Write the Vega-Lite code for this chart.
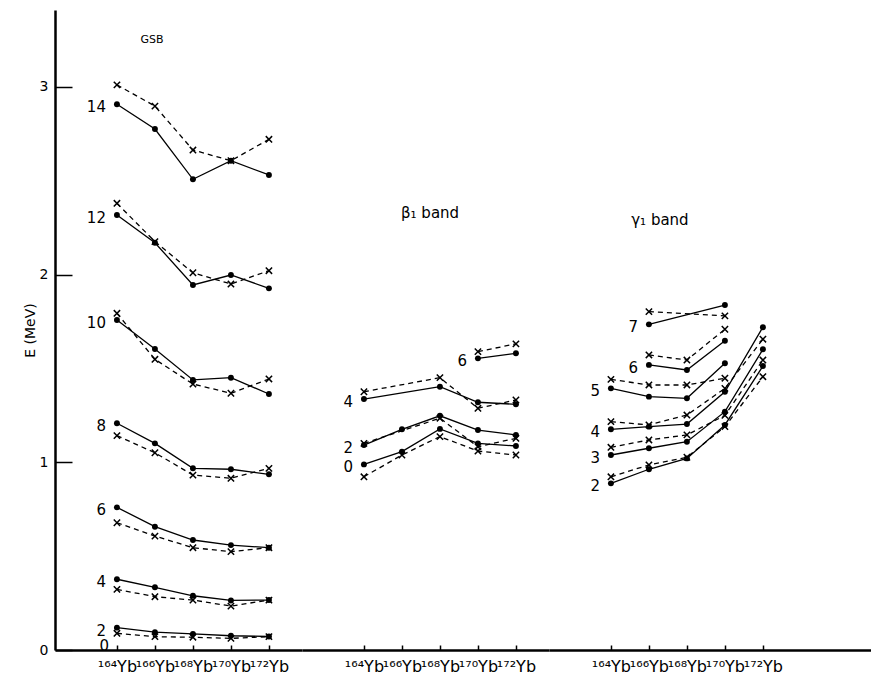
{
"$schema": "https://vega.github.io/schema/vega-lite/v6.json",
"padding": {"left": 23, "top": 10, "right": 0, "bottom": 5},
"background": "white",
"spacing": 0,
"bounds": "flush",
"config": {"view": {"stroke": null}, "font": "DejaVu Sans",
  "axis": {"domainColor": "black", "tickColor": "black", "labelColor": "black", "titleColor": "black", "grid": false}},
"datasets": {"levels": [
{"b":"GSB","s":0,"t":"exp","A":164,"E":0},
{"b":"GSB","s":2,"t":"exp","A":164,"E":0.119},{"b":"GSB","s":2,"t":"exp","A":166,"E":0.095},{"b":"GSB","s":2,"t":"exp","A":168,"E":0.086},{"b":"GSB","s":2,"t":"exp","A":170,"E":0.076},{"b":"GSB","s":2,"t":"exp","A":172,"E":0.072},
{"b":"GSB","s":4,"t":"exp","A":164,"E":0.377},{"b":"GSB","s":4,"t":"exp","A":166,"E":0.334},{"b":"GSB","s":4,"t":"exp","A":168,"E":0.289},{"b":"GSB","s":4,"t":"exp","A":170,"E":0.264},{"b":"GSB","s":4,"t":"exp","A":172,"E":0.266},
{"b":"GSB","s":6,"t":"exp","A":164,"E":0.760},{"b":"GSB","s":6,"t":"exp","A":166,"E":0.657},{"b":"GSB","s":6,"t":"exp","A":168,"E":0.586},{"b":"GSB","s":6,"t":"exp","A":170,"E":0.559},{"b":"GSB","s":6,"t":"exp","A":172,"E":0.545},
{"b":"GSB","s":8,"t":"exp","A":164,"E":1.208},{"b":"GSB","s":8,"t":"exp","A":166,"E":1.101},{"b":"GSB","s":8,"t":"exp","A":168,"E":0.968},{"b":"GSB","s":8,"t":"exp","A":170,"E":0.963},{"b":"GSB","s":8,"t":"exp","A":172,"E":0.936},
{"b":"GSB","s":10,"t":"exp","A":164,"E":1.758},{"b":"GSB","s":10,"t":"exp","A":166,"E":1.604},{"b":"GSB","s":10,"t":"exp","A":168,"E":1.439},{"b":"GSB","s":10,"t":"exp","A":170,"E":1.451},{"b":"GSB","s":10,"t":"exp","A":172,"E":1.364},
{"b":"GSB","s":12,"t":"exp","A":164,"E":2.318},{"b":"GSB","s":12,"t":"exp","A":166,"E":2.170},{"b":"GSB","s":12,"t":"exp","A":168,"E":1.945},{"b":"GSB","s":12,"t":"exp","A":170,"E":1.998},{"b":"GSB","s":12,"t":"exp","A":172,"E":1.927},
{"b":"GSB","s":14,"t":"exp","A":164,"E":2.908},{"b":"GSB","s":14,"t":"exp","A":166,"E":2.776},{"b":"GSB","s":14,"t":"exp","A":168,"E":2.508},{"b":"GSB","s":14,"t":"exp","A":170,"E":2.607},{"b":"GSB","s":14,"t":"exp","A":172,"E":2.531},
{"b":"GSB","s":2,"t":"calc","A":164,"E":0.089},{"b":"GSB","s":2,"t":"calc","A":166,"E":0.071},{"b":"GSB","s":2,"t":"calc","A":168,"E":0.068},{"b":"GSB","s":2,"t":"calc","A":170,"E":0.062},{"b":"GSB","s":2,"t":"calc","A":172,"E":0.071},
{"b":"GSB","s":4,"t":"calc","A":164,"E":0.323},{"b":"GSB","s":4,"t":"calc","A":166,"E":0.284},{"b":"GSB","s":4,"t":"calc","A":168,"E":0.266},{"b":"GSB","s":4,"t":"calc","A":170,"E":0.234},{"b":"GSB","s":4,"t":"calc","A":172,"E":0.266},
{"b":"GSB","s":6,"t":"calc","A":164,"E":0.678},{"b":"GSB","s":6,"t":"calc","A":166,"E":0.607},{"b":"GSB","s":6,"t":"calc","A":168,"E":0.545},{"b":"GSB","s":6,"t":"calc","A":170,"E":0.524},{"b":"GSB","s":6,"t":"calc","A":172,"E":0.545},
{"b":"GSB","s":8,"t":"calc","A":164,"E":1.142},{"b":"GSB","s":8,"t":"calc","A":166,"E":1.051},{"b":"GSB","s":8,"t":"calc","A":168,"E":0.932},{"b":"GSB","s":8,"t":"calc","A":170,"E":0.915},{"b":"GSB","s":8,"t":"calc","A":172,"E":0.968},
{"b":"GSB","s":10,"t":"calc","A":164,"E":1.794},{"b":"GSB","s":10,"t":"calc","A":166,"E":1.549},{"b":"GSB","s":10,"t":"calc","A":168,"E":1.417},{"b":"GSB","s":10,"t":"calc","A":170,"E":1.368},{"b":"GSB","s":10,"t":"calc","A":172,"E":1.444},
{"b":"GSB","s":12,"t":"calc","A":164,"E":2.380},{"b":"GSB","s":12,"t":"calc","A":166,"E":2.176},{"b":"GSB","s":12,"t":"calc","A":168,"E":2.010},{"b":"GSB","s":12,"t":"calc","A":170,"E":1.950},{"b":"GSB","s":12,"t":"calc","A":172,"E":2.021},
{"b":"GSB","s":14,"t":"calc","A":164,"E":3.011},{"b":"GSB","s":14,"t":"calc","A":166,"E":2.898},{"b":"GSB","s":14,"t":"calc","A":168,"E":2.664},{"b":"GSB","s":14,"t":"calc","A":170,"E":2.607},{"b":"GSB","s":14,"t":"calc","A":172,"E":2.721},
{"b":"beta","s":0,"t":"exp","A":164,"E":0.989},{"b":"beta","s":0,"t":"exp","A":166,"E":1.057},{"b":"beta","s":0,"t":"exp","A":168,"E":1.178},{"b":"beta","s":0,"t":"exp","A":170,"E":1.101},{"b":"beta","s":0,"t":"exp","A":172,"E":1.087},
{"b":"beta","s":2,"t":"exp","A":164,"E":1.092},{"b":"beta","s":2,"t":"exp","A":166,"E":1.176},{"b":"beta","s":2,"t":"exp","A":168,"E":1.248},{"b":"beta","s":2,"t":"exp","A":170,"E":1.172},{"b":"beta","s":2,"t":"exp","A":172,"E":1.146},
{"b":"beta","s":4,"t":"exp","A":164,"E":1.337},{"b":"beta","s":4,"t":"exp","A":168,"E":1.403},{"b":"beta","s":4,"t":"exp","A":170,"E":1.320},{"b":"beta","s":4,"t":"exp","A":172,"E":1.309},
{"b":"beta","s":6,"t":"exp","A":170,"E":1.554},{"b":"beta","s":6,"t":"exp","A":172,"E":1.581},
{"b":"beta","s":0,"t":"calc","A":164,"E":0.923},{"b":"beta","s":0,"t":"calc","A":166,"E":1.039},{"b":"beta","s":0,"t":"calc","A":168,"E":1.137},{"b":"beta","s":0,"t":"calc","A":170,"E":1.060},{"b":"beta","s":0,"t":"calc","A":172,"E":1.039},
{"b":"beta","s":2,"t":"calc","A":164,"E":1.101},{"b":"beta","s":2,"t":"calc","A":168,"E":1.235},{"b":"beta","s":2,"t":"calc","A":170,"E":1.083},{"b":"beta","s":2,"t":"calc","A":172,"E":1.128},
{"b":"beta","s":4,"t":"calc","A":164,"E":1.376},{"b":"beta","s":4,"t":"calc","A":168,"E":1.451},{"b":"beta","s":4,"t":"calc","A":170,"E":1.288},{"b":"beta","s":4,"t":"calc","A":172,"E":1.332},
{"b":"beta","s":6,"t":"calc","A":170,"E":1.590},{"b":"beta","s":6,"t":"calc","A":172,"E":1.631},
{"b":"gamma","s":2,"t":"exp","A":164,"E":0.888},{"b":"gamma","s":2,"t":"exp","A":166,"E":0.963},{"b":"gamma","s":2,"t":"exp","A":168,"E":1.021},{"b":"gamma","s":2,"t":"exp","A":170,"E":1.199},{"b":"gamma","s":2,"t":"exp","A":172,"E":1.513},
{"b":"gamma","s":3,"t":"exp","A":164,"E":1.039},{"b":"gamma","s":3,"t":"exp","A":166,"E":1.075},{"b":"gamma","s":3,"t":"exp","A":168,"E":1.110},{"b":"gamma","s":3,"t":"exp","A":170,"E":1.270},{"b":"gamma","s":3,"t":"exp","A":172,"E":1.602},
{"b":"gamma","s":4,"t":"exp","A":164,"E":1.176},{"b":"gamma","s":4,"t":"exp","A":166,"E":1.190},{"b":"gamma","s":4,"t":"exp","A":168,"E":1.204},{"b":"gamma","s":4,"t":"exp","A":170,"E":1.376},{"b":"gamma","s":4,"t":"exp","A":172,"E":1.720},
{"b":"gamma","s":5,"t":"exp","A":164,"E":1.394},{"b":"gamma","s":5,"t":"exp","A":166,"E":1.350},{"b":"gamma","s":5,"t":"exp","A":168,"E":1.341},{"b":"gamma","s":5,"t":"exp","A":170,"E":1.528},
{"b":"gamma","s":6,"t":"exp","A":166,"E":1.519},{"b":"gamma","s":6,"t":"exp","A":168,"E":1.492},{"b":"gamma","s":6,"t":"exp","A":170,"E":1.648},
{"b":"gamma","s":7,"t":"exp","A":166,"E":1.735},{"b":"gamma","s":7,"t":"exp","A":170,"E":1.838},
{"b":"gamma","s":2,"t":"calc","A":164,"E":0.923},{"b":"gamma","s":2,"t":"calc","A":166,"E":0.986},{"b":"gamma","s":2,"t":"calc","A":168,"E":1.027},{"b":"gamma","s":2,"t":"calc","A":170,"E":1.190},{"b":"gamma","s":2,"t":"calc","A":172,"E":1.456},
{"b":"gamma","s":3,"t":"calc","A":164,"E":1.080},{"b":"gamma","s":3,"t":"calc","A":166,"E":1.119},{"b":"gamma","s":3,"t":"calc","A":168,"E":1.146},{"b":"gamma","s":3,"t":"calc","A":170,"E":1.250},{"b":"gamma","s":3,"t":"calc","A":172,"E":1.545},
{"b":"gamma","s":4,"t":"calc","A":164,"E":1.217},{"b":"gamma","s":4,"t":"calc","A":166,"E":1.199},{"b":"gamma","s":4,"t":"calc","A":168,"E":1.252},{"b":"gamma","s":4,"t":"calc","A":170,"E":1.394},{"b":"gamma","s":4,"t":"calc","A":172,"E":1.656},
{"b":"gamma","s":5,"t":"calc","A":164,"E":1.442},{"b":"gamma","s":5,"t":"calc","A":166,"E":1.412},{"b":"gamma","s":5,"t":"calc","A":168,"E":1.412},{"b":"gamma","s":5,"t":"calc","A":170,"E":1.448},
{"b":"gamma","s":6,"t":"calc","A":166,"E":1.572},{"b":"gamma","s":6,"t":"calc","A":168,"E":1.545},{"b":"gamma","s":6,"t":"calc","A":170,"E":1.709},
{"b":"gamma","s":7,"t":"calc","A":166,"E":1.803},{"b":"gamma","s":7,"t":"calc","A":170,"E":1.780}
]},
"hconcat": [
{"width": 247, "height": 640,
 "data": {"name": "levels"},
 "encoding": {
  "x": {"field": "A", "type": "quantitative", "scale": {"domain": [160.74, 173.74], "nice": false, "zero": false},
        "axis": {"title": null, "values": [164,166,168,170,172], "labelExpr": "datum.value==164?'¹⁶⁴Yb':datum.value==166?'¹⁶⁶Yb':datum.value==168?'¹⁶⁸Yb':datum.value==170?'¹⁷⁰Yb':'¹⁷²Yb'", "domainWidth": 2.5, "tickSize": -5, "tickWidth": 1.5, "labelFontSize": 16, "labelPadding": 13, "labelDx": -8, "labelFlush": false, "labelOverlap": false}},
  "y": {"field": "E", "type": "quantitative", "scale": {"domain": [0, 3.41], "nice": false},
        "axis": {"title": "E (MeV)", "values": [0,1,2,3], "tickSize": -17, "tickWidth": 1.5, "domainWidth": 2.5, "labelFontSize": 14, "labelPadding": 24, "titleFontSize": 14, "titleFontWeight": "normal", "titlePadding": 2}}
 },
 "layer": [
  {"transform": [{"filter": "datum.b=='GSB' && datum.t=='exp' && datum.s > 0"}], "mark": {"type": "line", "color": "black", "strokeWidth": 1.3}, "encoding": {"detail": {"field": "s"}}},
  {"transform": [{"filter": "datum.b=='GSB' && datum.t=='calc'"}], "mark": {"type": "line", "color": "black", "strokeWidth": 1.3, "strokeDash": [5,4]}, "encoding": {"detail": {"field": "s"}}},
  {"transform": [{"filter": "datum.b=='GSB' && datum.t=='exp' && datum.s > 0"}], "mark": {"type": "point", "shape": "circle", "filled": true, "color": "black", "size": 35, "opacity": 1}},
  {"transform": [{"filter": "datum.b=='GSB' && datum.t=='calc'"}], "mark": {"type": "point", "shape": "M-1,-1L1,1M-1,1L1,-1", "filled": false, "color": "black", "strokeWidth": 1.5, "size": 40, "opacity": 1}},
  {"transform": [{"filter": "datum.b=='GSB' && datum.t=='exp' && datum.A==164 && datum.s>0"}], "mark": {"type": "text", "align": "right", "baseline": "middle", "dx": -11, "dy": 3, "fontSize": 15, "color": "black"}, "encoding": {"text": {"field": "s"}}},
  {"transform": [{"filter": "datum.b=='GSB' && datum.t=='exp' && datum.s==0"}], "mark": {"type": "text", "align": "right", "baseline": "middle", "dx": -8, "dy": -4, "fontSize": 15, "color": "black"}, "encoding": {"text": {"field": "s"}}},
  {"transform": [{"filter": "datum.b=='GSB' && datum.t=='exp' && datum.s==0"}], "mark": {"type": "text", "fontSize": 11, "color": "black", "text": "GSB"}, "encoding": {"x": {"datum": 165.85}, "y": {"datum": 3.25}}}
 ]
},
{"width": 247, "height": 640,
 "data": {"name": "levels"},
 "encoding": {
  "x": {"field": "A", "type": "quantitative", "scale": {"domain": [160.74, 173.74], "nice": false, "zero": false},
        "axis": {"title": null, "values": [164,166,168,170,172], "labelExpr": "datum.value==164?'¹⁶⁴Yb':datum.value==166?'¹⁶⁶Yb':datum.value==168?'¹⁶⁸Yb':datum.value==170?'¹⁷⁰Yb':'¹⁷²Yb'", "domainWidth": 2.5, "tickSize": -5, "tickWidth": 1.5, "labelFontSize": 16, "labelPadding": 13, "labelDx": -8, "labelFlush": false, "labelOverlap": false}},
  "y": {"field": "E", "type": "quantitative", "scale": {"domain": [0, 3.41], "nice": false}, "axis": null}
 },
 "layer": [
  {"transform": [{"filter": "datum.b=='beta' && datum.t=='exp'"}], "mark": {"type": "line", "color": "black", "strokeWidth": 1.3}, "encoding": {"detail": {"field": "s"}}},
  {"transform": [{"filter": "datum.b=='beta' && datum.t=='calc'"}], "mark": {"type": "line", "color": "black", "strokeWidth": 1.3, "strokeDash": [5,4]}, "encoding": {"detail": {"field": "s"}}},
  {"transform": [{"filter": "datum.b=='beta' && datum.t=='exp'"}], "mark": {"type": "point", "shape": "circle", "filled": true, "color": "black", "size": 35, "opacity": 1}},
  {"transform": [{"filter": "datum.b=='beta' && datum.t=='calc'"}], "mark": {"type": "point", "shape": "M-1,-1L1,1M-1,1L1,-1", "filled": false, "color": "black", "strokeWidth": 1.5, "size": 40, "opacity": 1}},
  {"transform": [{"filter": "datum.b=='beta' && datum.t=='exp'"}, {"joinaggregate": [{"op": "min", "field": "A", "as": "A0"}], "groupby": ["s"]}, {"filter": "datum.A==datum.A0"}], "mark": {"type": "text", "align": "right", "baseline": "middle", "dx": -11, "dy": 3, "fontSize": 15, "color": "black"}, "encoding": {"text": {"field": "s"}}},
  {"transform": [{"filter": "datum.b=='beta' && datum.t=='exp' && datum.s==0 && datum.A==164"}], "mark": {"type": "text", "fontSize": 15, "color": "black", "text": "β₁  band"}, "encoding": {"x": {"datum": 167.48}, "y": {"datum": 2.33}}}
 ]
},
{"width": 322, "height": 640,
 "data": {"name": "levels"},
 "encoding": {
  "x": {"field": "A", "type": "quantitative", "scale": {"domain": [160.74, 177.69], "nice": false, "zero": false},
        "axis": {"title": null, "values": [164,166,168,170,172], "labelExpr": "datum.value==164?'¹⁶⁴Yb':datum.value==166?'¹⁶⁶Yb':datum.value==168?'¹⁶⁸Yb':datum.value==170?'¹⁷⁰Yb':'¹⁷²Yb'", "domainWidth": 2.5, "tickSize": -5, "tickWidth": 1.5, "labelFontSize": 16, "labelPadding": 13, "labelDx": -8, "labelFlush": false, "labelOverlap": false}},
  "y": {"field": "E", "type": "quantitative", "scale": {"domain": [0, 3.41], "nice": false}, "axis": null}
 },
 "layer": [
  {"transform": [{"filter": "datum.b=='gamma' && datum.t=='exp'"}], "mark": {"type": "line", "color": "black", "strokeWidth": 1.3}, "encoding": {"detail": {"field": "s"}}},
  {"transform": [{"filter": "datum.b=='gamma' && datum.t=='calc'"}], "mark": {"type": "line", "color": "black", "strokeWidth": 1.3, "strokeDash": [5,4]}, "encoding": {"detail": {"field": "s"}}},
  {"transform": [{"filter": "datum.b=='gamma' && datum.t=='exp'"}], "mark": {"type": "point", "shape": "circle", "filled": true, "color": "black", "size": 35, "opacity": 1}},
  {"transform": [{"filter": "datum.b=='gamma' && datum.t=='calc'"}], "mark": {"type": "point", "shape": "M-1,-1L1,1M-1,1L1,-1", "filled": false, "color": "black", "strokeWidth": 1.5, "size": 40, "opacity": 1}},
  {"transform": [{"filter": "datum.b=='gamma' && datum.t=='exp'"}, {"joinaggregate": [{"op": "min", "field": "A", "as": "A0"}], "groupby": ["s"]}, {"filter": "datum.A==datum.A0"}], "mark": {"type": "text", "align": "right", "baseline": "middle", "dx": -11, "dy": 3, "fontSize": 15, "color": "black"}, "encoding": {"text": {"field": "s"}}},
  {"transform": [{"filter": "datum.b=='gamma' && datum.t=='exp' && datum.s==2 && datum.A==164"}], "mark": {"type": "text", "fontSize": 15, "color": "black", "text": "γ₁  band"}, "encoding": {"x": {"datum": 166.58}, "y": {"datum": 2.29}}}
 ]
}
]
}
